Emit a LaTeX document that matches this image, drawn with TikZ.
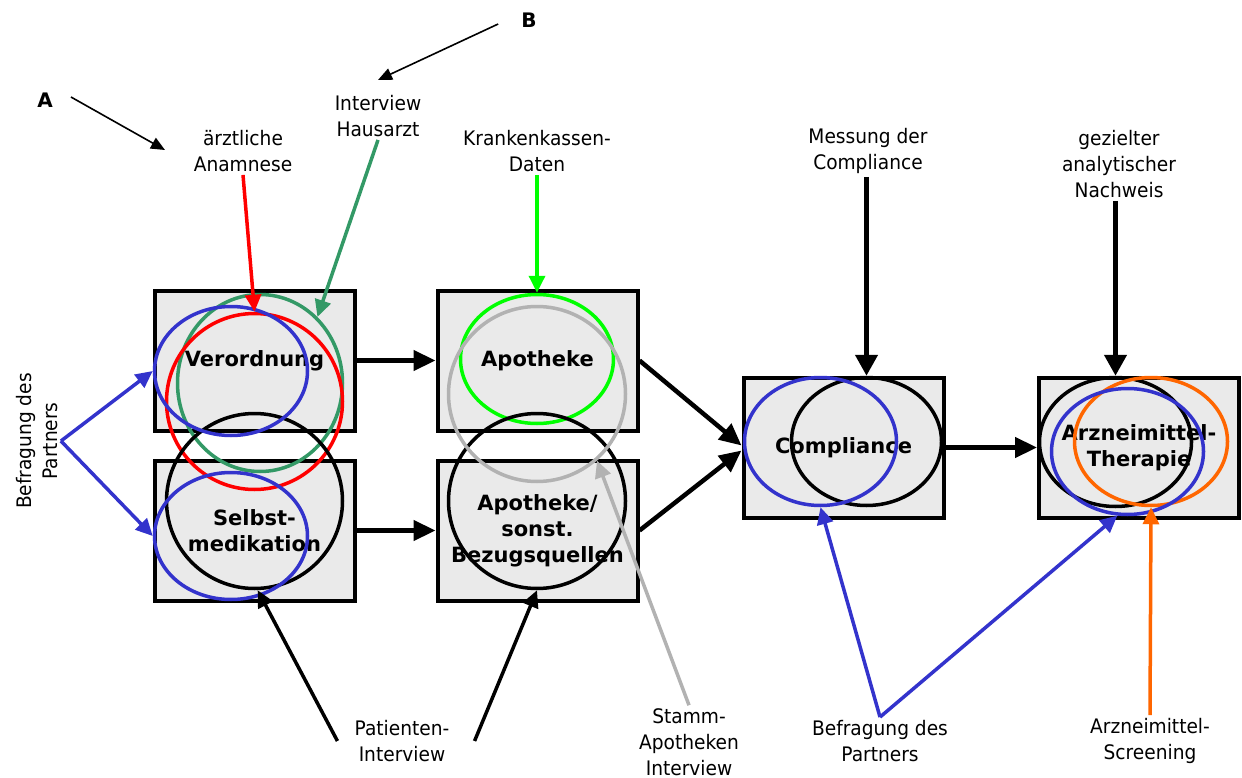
\documentclass[tikz,border=0pt]{standalone}
\usepackage{fontspec}
\setmainfont{DejaVu Sans}
\newfontfamily\lblf[FakeStretch=0.93]{DejaVu Sans}
\newfontfamily\boxf{DejaVu Sans}
\usetikzlibrary{arrows.meta,shapes.geometric,calc}
\definecolor{cblue}{RGB}{51,51,204}
\definecolor{cgreen}{RGB}{51,153,102}
\definecolor{clime}{RGB}{0,255,0}
\definecolor{cgray}{RGB}{178,178,178}
\definecolor{corange}{RGB}{255,102,0}
\definecolor{boxgray}{RGB}{234,234,234}
\begin{document}
\begin{tikzpicture}[x=1pt,y=-1pt,
  stagebox/.style={draw=black,line width=4pt,fill=boxgray,minimum width=200pt,minimum height=140pt,inner sep=0pt,align=center,font=\boxf\bfseries\fontsize{21}{26}\selectfont},
  ell/.style={ellipse,draw,line width=3.5pt,inner sep=0pt},
  lbl/.style={align=center,inner sep=3pt,font=\lblf\fontsize{20}{26}\selectfont},
  letter/.style={inner sep=3pt,font=\boxf\bfseries\fontsize{20}{26}\selectfont},
  arr/.style={-{Triangle[length=17pt,width=16pt]},line width=3.5pt},
  bigarr/.style={-{Triangle[length=21pt,width=22pt]},line width=4.5pt},
  flow/.style={-{Triangle[length=22pt,width=20pt]},line width=4.5pt},
  thinarr/.style={-{Triangle[length=14pt,width=12pt]},line width=1.6pt}]
\useasboundingbox (0,0) rectangle (1242,778);
% boxes
\node[stagebox] (bVer) at (254.5,360.5) {Verordnung};
\node[stagebox] (bSelb) at (254.5,530.5) {Selbst-\\medikation};
\node[stagebox] (bApo) at (537.5,360.5) {Apotheke};
\node[stagebox] (bApoS) at (537.5,530.5) {Apotheke/\\sonst.\\Bezugsquellen};
\node[stagebox] (bComp) at (843.5,447.5) {Compliance};
\node[stagebox] (bArz) at (1139,447.5) {Arzneimittel-\\Therapie};
% ellipses
\node[ell,draw=cgreen,minimum width=165pt,minimum height=177pt] (eVerGr) at (260,383) {};
\node[ell,draw=red,minimum width=176pt,minimum height=176pt] (eVerRd) at (254.5,401.5) {};
\node[ell,draw=black,minimum width=176pt,minimum height=175pt] (eSelBk) at (254.5,501) {};
\node[ell,draw=cblue,minimum width=153pt,minimum height=129pt] (eVerBl) at (231,371) {};
\node[ell,draw=cblue,minimum width=153pt,minimum height=127pt] (eSelBl) at (231,536) {};
\node[ell,draw=clime,minimum width=153pt,minimum height=129pt] (eApoLg) at (537,359) {};
\node[ell,draw=black,minimum width=177pt,minimum height=175pt] (eApoSBk) at (537,501) {};
\node[ell,draw=cgray,minimum width=177pt,minimum height=175pt] (eApoGy) at (537,394) {};
\node[ell,draw=black,minimum width=150pt,minimum height=128pt] (eCompBk) at (866.5,441.5) {};
\node[ell,draw=cblue,minimum width=152pt,minimum height=128pt] (eCompBl) at (820.5,441.5) {};
\node[ell,draw=black,minimum width=152pt,minimum height=129pt] (eArzBk) at (1115.5,442) {};
\node[ell,draw=corange,minimum width=153pt,minimum height=128pt] (eArzOr) at (1151,441.5) {};
\node[ell,draw=cblue,minimum width=152pt,minimum height=126pt] (eArzBl) at (1127.5,451.5) {};
% labels
\node[letter] (A) at (45,100) {A};
\node[letter] (B) at (529,20) {B};
\node[lbl] (lAnam) at (243,151) {ärztliche\\Anamnese};
\node[lbl] (lHaus) at (378,116) {Interview\\Hausarzt};
\node[lbl] (lKK) at (537,151) {Krankenkassen-\\Daten};
\node[lbl] (lMess) at (868,151) {Messung der\\Compliance};
\node[lbl] (lGez) at (1119,164) {gezielter\\analytischer\\Nachweis};
\node[lbl,rotate=90] (lBefL) at (37,441) {Befragung des\\Partners};
\node[lbl] (lPat) at (402,741) {Patienten-\\Interview};
\node[lbl] (lStamm) at (689,742) {Stamm-\\Apotheken\\Interview};
\node[lbl] (lBefr) at (880,741) {Befragung des\\Partners};
\node[lbl] (lScreen) at (1150,741) {Arzneimittel-\\Screening};
\coordinate (tipA) at (165,150);
\coordinate (tipB) at (378,80);
% A / B pointers
\draw[thinarr] ([xshift=15pt,yshift=3pt]A.east) -- (tipA);
\draw[thinarr] ([xshift=-20pt,yshift=-4pt]B.west) -- (tipB);
% top arrows
\draw[arr,red] (lAnam.south) -- (eVerRd.north);
\draw[arr,cgreen] (lHaus.south) -- (eVerGr.49);
\draw[arr,clime] (lKK.south) -- (eApoLg.north);
\draw[bigarr,black] (lMess.south -| eCompBk.north) -- (eCompBk.north);
\draw[bigarr,black] (lGez.south -| eArzBk.north) -- (eArzBk.north);
% left partner arrows
\draw[arr,cblue] (lBefL.south) -- (eVerBl.west);
\draw[arr,cblue] (lBefL.south) -- (eSelBl.west);
% flow arrows
\draw[flow] (bVer) -- (bApo);
\draw[flow] (bSelb) -- (bApoS);
\draw[flow] (bApo.east) -- ([yshift=2pt]bComp.west);
\draw[flow] (bApoS.east) -- ([yshift=-3pt]bComp.west);
\draw[flow] (bComp) -- (bArz);
% bottom arrows
\draw[arr,black] ([xshift=-14pt]lPat.west) -- (eSelBk.-88);
\draw[arr,black] ([xshift=22pt]lPat.east) -- (eApoSBk.south);
\draw[arr,cgray] (lStamm.north) -- (eApoGy.-48);
\draw[arr,cblue] (lBefr.north) -- (eCompBl.south);
\draw[arr,cblue] (lBefr.north) -- (eArzBl.-99);
\draw[arr,corange] (lScreen.north) -- (eArzOr.south);
\end{tikzpicture}
\end{document}
